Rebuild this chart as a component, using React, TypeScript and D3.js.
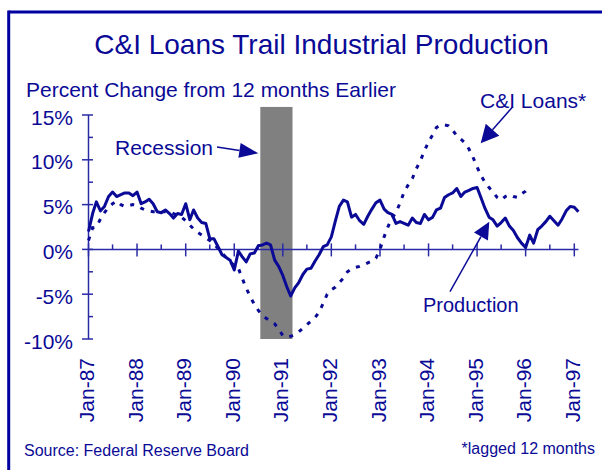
import * as d3 from 'd3';

// Industrial production, % change from 12 months earlier, monthly from Jan-87
const production = [
  2.0, 4.0, 5.3, 4.3, 4.8, 5.9, 6.4, 5.9, 6.1, 6.3, 6.3, 6.0,
  6.4, 5.1, 5.3, 5.6, 5.1, 4.2, 4.1, 4.4, 4.0, 3.5, 4.0, 3.9,
  5.1, 3.3, 4.4, 3.5, 3.0, 2.9, 1.2, 1.2, 0.3, -0.6, -0.9, -1.2,
  -2.3, -0.2, -0.8, -1.4, -0.5, -0.4, 0.4, 0.5, 0.7, 0.5, -1.2, -1.9,
  -2.9, -4.2, -5.2, -4.3, -3.7, -2.8, -2.2, -2.1, -1.3, -0.6, 0.3, 0.5,
  1.4, 3.2, 4.8, 5.5, 5.3, 3.6, 3.9, 3.2, 2.8, 3.7, 4.5, 5.2,
  5.5, 4.5, 4.1, 3.9, 2.9, 3.1, 2.9, 2.7, 3.5, 3.0, 2.9, 3.9,
  3.3, 3.6, 4.4, 4.6, 5.8, 6.1, 6.3, 6.8, 5.9, 6.4, 6.6, 6.8,
  6.9, 5.7, 4.6, 3.6, 3.3, 2.6, 3.0, 3.5, 2.6, 2.1, 1.3, 0.7,
  0.2, 1.6, 0.7, 2.2, 2.6, 3.1, 3.7, 3.2, 2.7, 3.4, 4.3, 4.8,
  4.7, 4.2,
];

// C&I loans, % change from 12 months earlier, lagged 12 months, monthly from Jan-87
const ciLoans = [
  1.0, 2.4, 2.5, 3.4, 4.1, 4.7, 5.1, 5.4, 5.0, 4.8, 4.9, 5.0,
  4.9, 4.6, 4.4, 4.3, 4.2, 4.2, 4.2, 4.2, 4.2, 4.0, 3.8, 3.6,
  3.2, 2.7, 2.3, 1.9, 1.6, 1.3, 1.0, 0.6, 0.1, -0.4, -0.9, -1.4,
  -1.8, -2.1, -3.2, -4.3, -5.3, -6.1, -6.8, -7.4, -7.7, -8.0, -8.3, -8.9,
  -9.6, -9.8, -9.7, -9.5, -9.2, -8.8, -8.4, -8.0, -7.6, -7.0, -6.0, -5.0,
  -4.5, -4.2, -3.7, -3.2, -2.5, -2.2, -2.0, -1.9, -1.7, -1.5, -1.3, -1.0,
  0.0, 1.4, 2.5, 3.5, 4.1, 5.2, 6.4, 7.2, 7.9, 9.0, 9.9, 11.0,
  12.0, 12.8, 13.6, 13.9, 13.9, 13.8, 13.3, 12.7, 12.3, 11.9, 11.2, 10.3,
  9.2, 8.2, 7.5, 6.9, 6.4, 5.8, 5.5, 5.9, 6.1, 5.9, 5.8, 6.2,
  6.5, 7.0,
];

const yMajor = [-10, -5, 0, 5, 10, 15];
const yMinor = [-7.5, -2.5, 2.5, 7.5, 12.5];
const recession = [new Date(1990, 6, 16), new Date(1991, 2, 15)];

const BLUE = '#0a0a96';
const AXIS = '#2a2aa6';
const FONT = '"Liberation Sans", Arial, sans-serif';

const start = new Date(1987, 0, 1);
const monthDate = (i: number) => d3.timeMonth.offset(start, i);

function Arrow({ x1, y1, x2, y2, len = 18, half = 8.5 }:
  { x1: number; y1: number; x2: number; y2: number; len?: number; half?: number }) {
  const a = Math.atan2(y2 - y1, x2 - x1);
  const bx = x2 - len * Math.cos(a), by = y2 - len * Math.sin(a);
  const px = -Math.sin(a) * half, py = Math.cos(a) * half;
  return (
    <g>
      <line x1={x1} y1={y1} x2={bx} y2={by} stroke={BLUE} strokeWidth={1.5} />
      <polygon points={`${x2},${y2} ${bx + px},${by + py} ${bx - px},${by - py}`} fill={BLUE} />
    </g>
  );
}

export default function App() {
  const W = 602, H = 470;
  const x = d3.scaleTime().domain([new Date(1987, 0, 1), new Date(1997, 0, 1)]).range([88.5, 574.3]);
  const y = d3.scaleLinear().domain([-10, 15]).range([339, 115]);

  const line = d3.line<number>().x((_, i) => x(monthDate(i))).y(d => y(d));

  const years = d3.timeYear.range(new Date(1987, 0, 1), new Date(1997, 0, 2));
  const halves = years.slice(0, -1).map(d => d3.timeMonth.offset(d, 6));
  const fmt = d3.timeFormat('%b-%y');
  const y0 = y(0);
  const xl = x.range()[0];

  return (
    <svg width={W} height={H} style={{ position: 'absolute', left: 0, top: 0, background: '#fff' }}
      fontFamily={FONT}>
      {/* frame */}
      <line x1={8.7} y1={12} x2={W} y2={12} stroke="#0000a0" strokeWidth={3} />
      <line x1={8.7} y1={10.5} x2={8.7} y2={H} stroke="#0000a0" strokeWidth={3} />

      <text x={321.5} y={54} textAnchor="middle" fontSize={28} fill={BLUE}>
        C&amp;I Loans Trail Industrial Production
      </text>
      <text x={26} y={97} fontSize={21} fill={BLUE}>Percent Change from 12 months Earlier</text>

      {/* recession band */}
      <rect x={x(recession[0])} y={y(15.9)} width={x(recession[1]) - x(recession[0])}
        height={y(-10) - y(15.9)} fill="#808080" />

      {/* y axis */}
      <line x1={xl} y1={y(15)} x2={xl} y2={y(-10)} stroke={AXIS} strokeWidth={1.5} />
      {yMajor.map(v => (
        <g key={v}>
          <line x1={xl - 6.5} x2={xl + 4.5} y1={y(v)} y2={y(v)} stroke={AXIS} strokeWidth={1.5} />
          <text x={73} y={y(v) + 9.5} textAnchor="end" fontSize={21} fill={BLUE}>{v}%</text>
        </g>
      ))}
      {yMinor.map(v => (
        <line key={v} x1={xl} x2={xl + 4.5} y1={y(v)} y2={y(v)} stroke={AXIS} strokeWidth={1.5} />
      ))}

      {/* x axis */}
      <line x1={xl} x2={x(new Date(1997, 1, 1))} y1={y0} y2={y0} stroke={AXIS} strokeWidth={1.5} />
      {years.map(d => (
        <g key={+d}>
          <line x1={x(d)} x2={x(d)} y1={y0 - 6} y2={y0 + 7} stroke={AXIS} strokeWidth={1.5} />
          <text transform={`translate(${x(d) + 5.5},358) rotate(-90)`} textAnchor="end"
            fontSize={21} fill={BLUE}>{fmt(d)}</text>
        </g>
      ))}
      {halves.map(d => (
        <line key={+d} x1={x(d)} x2={x(d)} y1={y0 - 5} y2={y0} stroke={AXIS} strokeWidth={1.5} />
      ))}

      {/* series */}
      <path d={line(ciLoans) ?? ''} fill="none" stroke={BLUE} strokeWidth={3} strokeDasharray="4 7" />
      <path d={line(production) ?? ''} fill="none" stroke={BLUE} strokeWidth={3} strokeLinejoin="round" />

      {/* annotations */}
      <text x={115} y={155} fontSize={21} fill={BLUE}>Recession</text>
      <Arrow x1={217} y1={147} x2={258.3} y2={153.3} len={19} half={7.5} />
      <text x={480} y={108} fontSize={21} fill={BLUE}>C&amp;I Loans*</text>
      <Arrow x1={512.7} y1={106.7} x2={480.7} y2={143.3} len={18} half={9} />
      <text x={423} y={311.7} fontSize={20} fill={BLUE}>Production</text>
      <Arrow x1={450} y1={291.7} x2={489.3} y2={221.7} len={17} half={8} />

      <text x={24} y={456} fontSize={16} fill={BLUE}>Source: Federal Reserve Board</text>
      <text x={595} y={454} textAnchor="end" fontSize={16} fill={BLUE}>*lagged 12 months</text>
    </svg>
  );
}
